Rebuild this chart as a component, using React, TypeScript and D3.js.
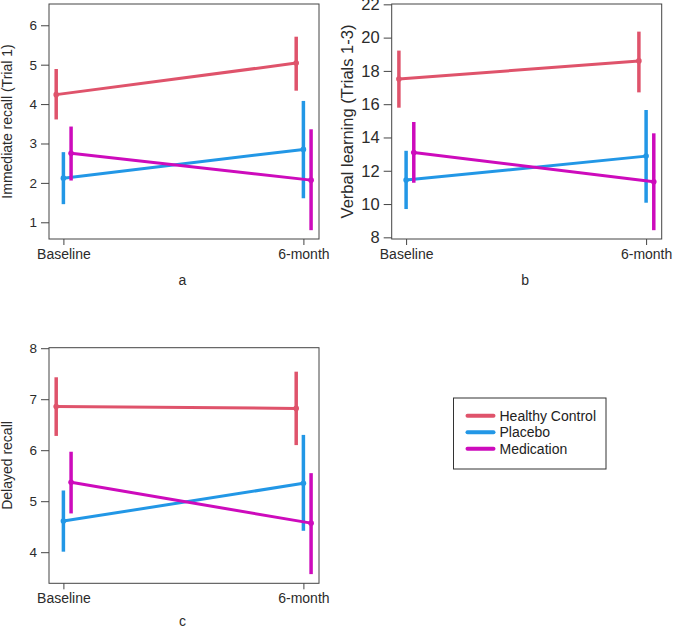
import React, { useRef, useEffect } from "react";
import * as d3 from "d3";

// time points and groups
const timepoints = ["Baseline", "6-month"];
const groups = ["Healthy Control", "Placebo", "Medication"];
const groupColors = ["#DF536B", "#2297E6", "#CD0BBC"];

// rows = groups (HC, placebo, medication), cols = timepoints
const immediateMean = [[4.24, 5.04], [2.12, 2.85], [2.75, 2.07]];
const immediateLow = [[3.61, 4.34], [1.46, 1.61], [2.06, 0.8]];
const immediateHigh = [[4.89, 5.71], [2.78, 4.08], [3.43, 3.36]];
const immediateTicks = [1, 2, 3, 4, 5, 6];

const verbalMean = [[17.51, 18.6], [11.44, 12.88], [13.1, 11.34]];
const verbalLow = [[15.79, 16.71], [9.7, 10.08], [11.28, 8.43]];
const verbalHigh = [[19.22, 20.36], [13.2, 15.65], [14.93, 14.25]];
const verbalTicks = [8, 10, 12, 14, 16, 18, 20, 22];

const delayedMean = [[6.855, 6.82], [4.61, 5.35], [5.37, 4.57]];
const delayedLow = [[6.28, 6.1], [4.01, 4.42], [4.76, 3.57]];
const delayedHigh = [[7.43, 7.54], [5.21, 6.3], [5.97, 5.55]];
const delayedTicks = [4, 5, 6, 7, 8];

const panels = [
  { label: "a", title: "Immediate recall (Trial 1)", mean: immediateMean, lo: immediateLow, hi: immediateHigh, ticks: immediateTicks,
    yDomain: [0.576, 6.54], box: [49, 319, 4, 239], yFont: 13.5, titleFont: 14, titleX: 12, labelY: 285 },
  { label: "b", title: "Verbal learning (Trials 1-3)", mean: verbalMean, lo: verbalLow, hi: verbalHigh, ticks: verbalTicks,
    yDomain: [7.9, 22.02], box: [391.7, 661.7, 4, 239], yFont: 16.5, titleFont: 16.5, titleX: 352.5, labelY: 285 },
  { label: "c", title: "Delayed recall", mean: delayedMean, lo: delayedLow, hi: delayedHigh, ticks: delayedTicks,
    yDomain: [3.39, 8.01], box: [49, 319, 347.7, 583.3], yFont: 13.5, titleFont: 14, titleX: 12, labelY: 626 },
];

const dodge = [-0.03, 0, 0.032];

const App = () => {
  const container = useRef(null);
  const width = 673;
  const height = 628;

  useEffect(() => {
    const svg = d3.select(container.current);
    svg.selectAll("*").remove();
    const font = "'Liberation Sans', Arial, sans-serif";
    const ink = "#2b2b2b";

    panels.forEach(p => {
      const [x0, x1, y0, y1] = p.box;
      const x = d3.scaleLinear().domain([0.94, 2.065]).range([x0, x1]);
      const y = d3.scaleLinear().domain(p.yDomain).range([y1, y0]);
      const g = svg.append("g");

      // series lines + error bars
      groups.forEach((grp, gi) => {
        const pts = timepoints.map((t, ti) => ({
          x: x(ti + 1 + dodge[gi]),
          m: y(p.mean[gi][ti]),
          lo: y(p.lo[gi][ti]),
          hi: y(p.hi[gi][ti]),
        }));
        g.append("path")
          .attr("d", d3.line().x(d => d.x).y(d => d.m)(pts))
          .attr("fill", "none")
          .attr("stroke", groupColors[gi])
          .attr("stroke-width", 3);
        g.selectAll(null)
          .data(pts)
          .enter()
          .append("line")
          .attr("x1", d => d.x)
          .attr("x2", d => d.x)
          .attr("y1", d => d.lo)
          .attr("y2", d => d.hi)
          .attr("stroke", groupColors[gi])
          .attr("stroke-width", 3.5);
        g.selectAll(null)
          .data(pts)
          .enter()
          .append("circle")
          .attr("cx", d => d.x)
          .attr("cy", d => d.m)
          .attr("r", 2.8)
          .attr("fill", groupColors[gi]);
      });

      // frame
      g.append("rect")
        .attr("x", x0)
        .attr("y", y0)
        .attr("width", x1 - x0)
        .attr("height", y1 - y0)
        .attr("fill", "none")
        .attr("stroke", "#444")
        .attr("stroke-width", 1);

      // y axis
      const ya = g.append("g")
        .attr("transform", `translate(${x0},0)`)
        .call(d3.axisLeft(y).tickValues(p.ticks).tickSize(8).tickPadding(4).tickFormat(d3.format("d")));
      ya.select(".domain").remove();
      ya.selectAll("line").attr("stroke", "#444");
      ya.selectAll("text").attr("fill", ink).style("font-family", font).style("font-size", p.yFont + "px");

      // x axis
      const xa = g.append("g")
        .attr("transform", `translate(0,${y1})`)
        .call(d3.axisBottom(x).tickValues([1, 2]).tickSize(6).tickPadding(4).tickFormat(d => timepoints[d - 1]));
      xa.select(".domain").remove();
      xa.selectAll("line").attr("stroke", "#444");
      xa.selectAll("text").attr("fill", ink).style("font-family", font).style("font-size", "14px");

      // titles
      g.append("text")
        .attr("transform", `translate(${p.titleX},${(y0 + y1) / 2}) rotate(-90)`)
        .attr("text-anchor", "middle")
        .attr("fill", ink)
        .style("font-family", font)
        .style("font-size", p.titleFont + "px")
        .text(p.title);
      g.append("text")
        .attr("x", (x0 + x1) / 2 - 1.5)
        .attr("y", p.labelY)
        .attr("text-anchor", "middle")
        .attr("fill", ink)
        .style("font-family", font)
        .style("font-size", "14px")
        .text(p.label);
    });

    // legend
    const legend = svg.append("g").attr("transform", "translate(453.5,398)");
    legend.append("rect")
      .attr("width", 152.5)
      .attr("height", 71)
      .attr("fill", "none")
      .attr("stroke", "#333")
      .attr("stroke-width", 1);
    const rows = legend.selectAll(".row")
      .data(groups)
      .enter()
      .append("g")
      .attr("transform", (d, i) => `translate(0,${17.7 + i * 16.5})`);
    rows.append("line")
      .attr("x1", 14)
      .attr("x2", 40)
      .attr("stroke", (d, i) => groupColors[i])
      .attr("stroke-width", 4)
      .attr("stroke-linecap", "round");
    rows.append("text")
      .attr("x", 46)
      .attr("y", 5)
      .attr("fill", "#222")
      .style("font-family", font)
      .style("font-size", "14px")
      .text(d => d);
  }, []);

  return (
    <svg ref={container} width={width} height={height}
      style={{ position: "absolute", top: 0, left: 0, background: "white" }} />
  );
};

export default App;
